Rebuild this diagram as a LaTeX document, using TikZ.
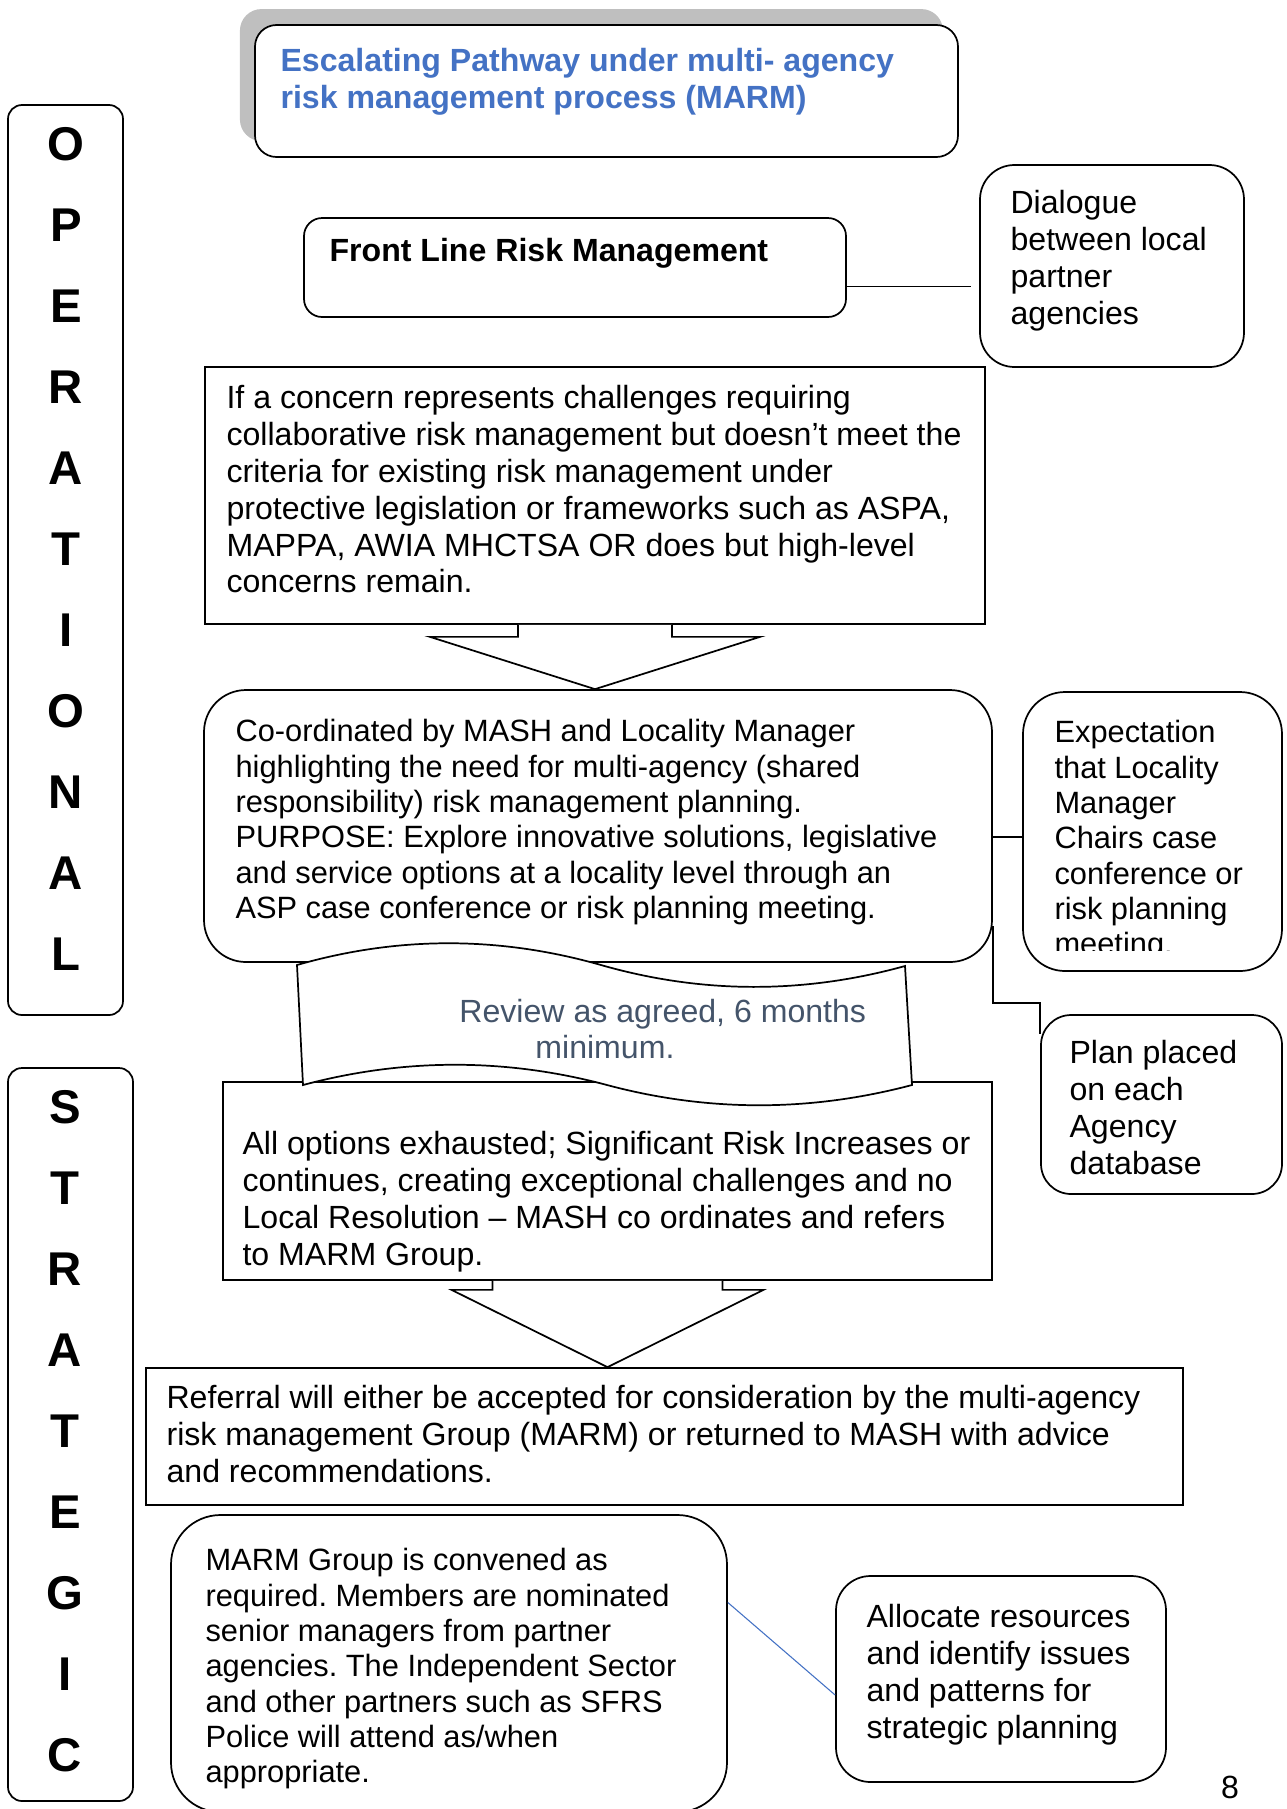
\documentclass[tikz,border=0pt]{standalone}
\usepackage{fontspec}
\setmainfont{Liberation Sans}
\usepackage{tikz}
\usetikzlibrary{positioning, calc, fit, shadows}
\definecolor{titleblue}{HTML}{4472C4}
\definecolor{reviewgrey}{HTML}{44546A}
\definecolor{shadowgrey}{HTML}{BFBFBF}
\frenchspacing

\begin{document}
\begin{tikzpicture}[x=0.1632mm, y=-0.1632mm,
    box/.style={draw, line width=0.8pt, inner sep=0pt, fill=white},
    roundbox/.style={box, rounded corners=#1},
    pointer/.style={draw, fill=white, line width=0.8pt},
    link/.style={line width=0.8pt},
    txt/.style={anchor=north west, inner sep=0pt, align=left, font=\fontsize{14.9}{17.1}\selectfont},
    tighttxt/.style={txt, font=\fontsize{14.3}{16.4}\selectfont},
    bigletter/.style={inner sep=0pt, font=\fontsize{22}{22}\selectfont\bfseries}]
    \useasboundingbox (0,0) rectangle (1287,1809);
    \clip (0,0) rectangle (1287,1809);

    \node[roundbox=6.5pt, fit={(8,105) (123,1015)}] (oper) {};
    \node[roundbox=6.5pt, fit={(8,1068) (133,1801)}] (strat) {};
    \foreach \ch [count=\i from 0] in {O,P,E,R,A,T,I,O,N,A,L}
        \node[bigletter] (oper-\i) at (66,{144+81*\i}) {\ch};
    \foreach \ch [count=\i from 0] in {S,T,R,A,T,E,G,I,C}
        \node[bigletter] (strat-\i) at (65,{1107+81*\i}) {\ch};

    \node[roundbox=10pt, drop shadow={shadow xshift=-7pt, shadow yshift=7.4pt, fill=shadowgrey, opacity=1}, fit={(255,25) (958,157)}] (title) {};
    \node[txt, font=\fontsize{14.9}{17.2}\selectfont\bfseries, text=titleblue] (title-txt) at ($(title.north west)+(26,24)$) {Escalating Pathway under multi- agency\\risk management process (MARM)};

    \node[roundbox=8.4pt, fit={(304,218) (846,317)}] (frontline) {};
    \node[txt, font=\fontsize{14.9}{17.1}\selectfont\bfseries] (frontline-txt) at ($(frontline.north west)+(26,21)$) {Front Line Risk Management};

    \node[roundbox=16pt, fit={(980,165) (1244,367)}] (dialogue) {};
    \node[txt, font=\fontsize{14.9}{17.2}\selectfont] (dialogue-txt) at ($(dialogue.north west)+(31,26)$) {Dialogue\\between local\\partner\\agencies};
    \coordinate (d1) at ($(frontline.east)+(0,19)$);
    \coordinate (d2) at ($(d1 -| dialogue.west)+(-8,0)$);
    \draw[link] (d1) -- (d2);

    \node[box, fit={(205,367) (985,624)}] (concern) {};
    \node[txt] (concern-txt) at ($(concern.north west)+(22,19)$) {If a concern represents challenges requiring\\collaborative risk management but doesn’t meet the\\criteria for existing risk management under\\protective legislation or frameworks such as ASPA,\\MAPPA, AWIA MHCTSA OR does but high-level\\concerns remain.};

    \node[roundbox=19.5pt, fit={(204,690) (992,962)}] (coordbox) {};
    \node[tighttxt] (coordbox-txt) at ($(coordbox.north west)+(32,30)$) {Co-ordinated by MASH and Locality Manager\\highlighting the need for multi-agency (shared\\responsibility) risk management planning.\\PURPOSE: Explore innovative solutions, legislative\\and service options at a locality level through an\\ASP case conference or risk planning meeting.};

    \draw[pointer] ($(concern.south)+(-77,0)$) -- ++(0,12) -- ++(-88,0) -- (concern.south |- coordbox.north) -- ($(concern.south)+(165,12)$) -- ++(-88,0) -- ++(0,-12);

    \node[roundbox=19.5pt, fit={(1023,692) (1282,971)}] (expect) {};
    \begin{scope}
        \clip (1023,692) rectangle (1282,950);
        \node[tighttxt] (expect-txt) at ($(expect.north west)+(32,29)$) {Expectation\\that Locality\\Manager\\Chairs case\\conference or\\risk planning\\meeting.};
    \end{scope}
    \draw[link] ($(coordbox.east)+(0,11)$) -- ($(expect.west)+(0,5.5)$);

    \node[roundbox=14pt, fit={(1041,1015) (1282,1194)}] (plan) {};
    \node[txt] (plan-txt) at ($(plan.north west)+(29,26)$) {Plan placed\\on each\\Agency\\database};
    \draw[link] ($(coordbox.east)+(0,100)$) |- ($(plan.north west)+(0,-11)$) -- ($(plan.north west)+(0,20)$);

    \node[box, fit={(223,1082) (992,1280)}] (options) {};
    \node[txt] (options-txt) at ($(options.north west)+(20,50)$) {All options exhausted; Significant Risk Increases or\\continues, creating exceptional challenges and no\\Local Resolution – MASH co ordinates and refers\\to MARM Group.};

    \coordinate (wave) at (297,965);
    \draw[pointer] (wave) .. controls (398,936) and (499,936) .. (601,965) .. controls (702,994) and (804,994) .. (905,966) -- (912,1085) .. controls (810,1112) and (708,1112) .. (607,1085) .. controls (506,1058) and (404,1058) .. (303,1085) -- cycle;
    \node[txt, text=reviewgrey, font=\fontsize{14.9}{16.7}\selectfont] (review-txt) at ($(wave)+(162,34)$) {Review as agreed, 6 months\\\hspace*{12.4mm}minimum.};

    \node[box, fit={(146,1368) (1183,1505)}] (referral) {};
    \node[txt] (referral-txt) at ($(referral.north west)+(21,18)$) {Referral will either be accepted for consideration by the multi-agency\\risk management Group (MARM) or returned to MASH with advice\\and recommendations.};

    \draw[pointer] ($(options.south)+(-115,0)$) -- ++(0,9) -- ++(-41,0) -- (options.south |- referral.north) -- ($(options.south)+(156,9)$) -- ++(-41,0) -- ++(0,-9);

    \node[roundbox=23pt, fit={(171,1515) (727,1812)}] (marm) {};
    \node[tighttxt] (marm-txt) at ($(marm.north west)+(35,34)$) {MARM Group is convened as\\required. Members are nominated\\senior managers from partner\\agencies. The Independent Sector\\and other partners such as SFRS\\Police will attend as/when\\appropriate.};

    \node[roundbox=16pt, fit={(836,1576) (1166,1782)}] (allocate) {};
    \node[txt] (allocate-txt) at ($(allocate.north west)+(31,29)$) {Allocate resources\\and identify issues\\and patterns for\\strategic planning};
    \draw[titleblue, line width=0.5pt] ($(marm.east)+(0,-61)$) -- ($(allocate.west)+(0,16)$);

    \node[inner sep=0pt, font=\fontsize{14.9}{16}\selectfont] (pagenum) at (1230,1787) {8};
\end{tikzpicture}
\end{document}
